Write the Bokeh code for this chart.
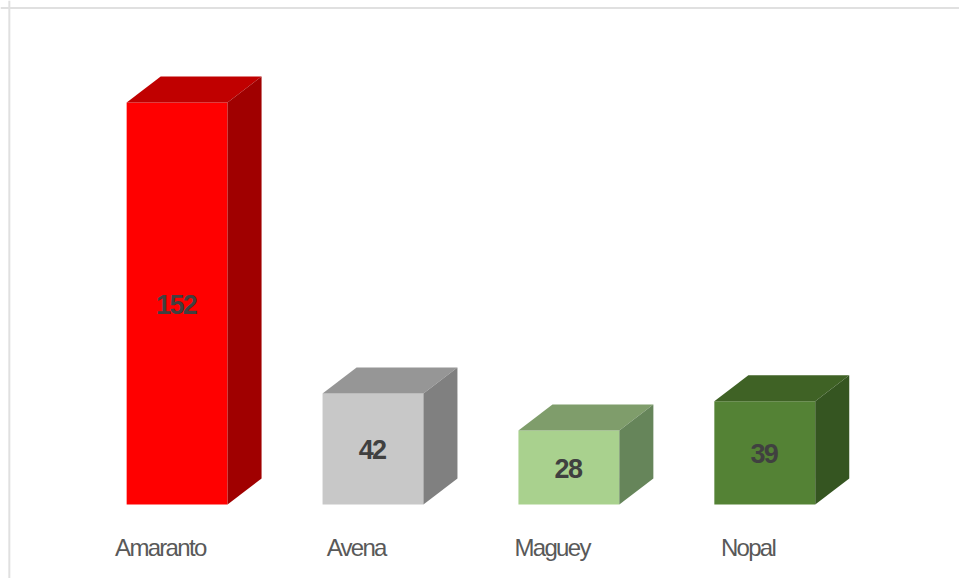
from bokeh.plotting import figure
from bokeh.models import Range1d, Span, InlineStyleSheet
from bokeh.core.properties import value
from bokeh.embed import file_html
from bokeh.resources import INLINE

categories = ["Amaranto", "Avena", "Maguey", "Nopal"]
values = [152, 42, 28, 39]
front_colors = ["#FF0000", "#C8C8C8", "#A9D18E", "#548235"]
top_colors = ["#C00000", "#969696", "#7F9D6B", "#3F6225"]
side_colors = ["#A00000", "#808080", "#66855A", "#355521"]

BAR_W = 0.515
DEPTH_X = 0.1737
DEPTH_Y = 9.83
TRACKING = 1.7

p = figure(width=959, height=578, output_backend="svg", toolbar_location=None,
           x_range=Range1d(-0.9015, 3.994), y_range=Range1d(-27.98, 190.55),
           min_border=0, min_border_left=0, min_border_right=0,
           min_border_top=0, min_border_bottom=0)
p.stylesheets = [InlineStyleSheet(css=":host{letter-spacing:-%spx}" % TRACKING)]
p.axis.visible = False
p.grid.visible = False
p.outline_line_color = None
p.background_fill_color = "#FFFFFF"

idx = list(range(len(categories)))
lefts = [i - BAR_W / 2 for i in idx]
rights = [i + BAR_W / 2 for i in idx]

p.quad(left=lefts, right=rights, bottom=[0] * len(idx), top=values,
       fill_color=front_colors, line_color=None)
p.patches(
    xs=[[l, r, r + DEPTH_X, l + DEPTH_X] for l, r in zip(lefts, rights)],
    ys=[[v, v, v + DEPTH_Y, v + DEPTH_Y] for v in values],
    fill_color=top_colors, line_color=None)
p.patches(
    xs=[[r, r + DEPTH_X, r + DEPTH_X, r] for r in rights],
    ys=[[0, DEPTH_Y, v + DEPTH_Y, v] for v in values],
    fill_color=side_colors, line_color=None)

# Anchoring ignores the letter-spacing, so each text is re-centred by half of it.
p.text(x=idx, y=[v / 2 for v in values], text=[str(v) for v in values],
       text_font=value("Liberation Sans"), text_font_style="bold",
       text_font_size="27px", text_color="#404040",
       text_align="center", text_baseline="middle",
       x_offset=[len(str(v)) * TRACKING / 2 - 1 for v in values], y_offset=1)
p.text(x=idx, y=[0] * len(idx), text=categories,
       text_font=value("Liberation Sans"), text_font_size="24px",
       text_color="#595959", text_align="center", text_baseline="middle",
       x_offset=[len(c) * TRACKING / 2 - 16.8 for c in categories], y_offset=43)

p.add_layout(Span(location=187.7, dimension="width", line_color="#E0E0E0", line_width=2))
p.add_layout(Span(location=-0.8565, dimension="height", line_color="#E0E0E0", line_width=2))

open("out.html", "w").write(file_html(p, INLINE))
